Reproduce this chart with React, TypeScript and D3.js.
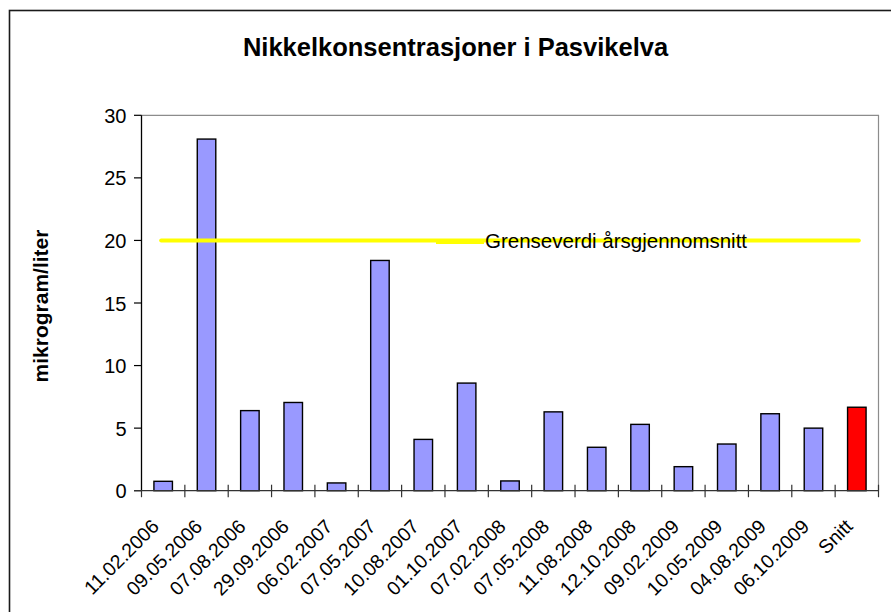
import { useEffect, useRef } from 'react';
import * as d3 from 'd3';

const dates = [
  '11.02.2006', '09.05.2006', '07.08.2006', '29.09.2006', '06.02.2007', '07.05.2007',
  '10.08.2007', '01.10.2007', '07.02.2008', '07.05.2008', '11.08.2008', '12.10.2008',
  '09.02.2009', '10.05.2009', '04.08.2009', '06.10.2009', 'Snitt',
];
const nickel = [0.75, 28.1, 6.4, 7.05, 0.62, 18.4, 4.1, 8.6, 0.78, 6.3, 3.47, 5.3, 1.92, 3.73, 6.15, 5.0, 6.67];
const limitValue = 20;
const limitLabel = 'Grenseverdi årsgjennomsnitt';
const yTicks = [0, 5, 10, 15, 20, 25, 30];

const W = 891;
const H = 612;
const FONT = '"Liberation Sans", Arial, sans-serif';

function App() {
  const ref = useRef<HTMLDivElement>(null);

  useEffect(() => {
    const svgElement = createChart();
    ref.current && ref.current.appendChild(svgElement);
    return () => {
      if (ref.current && ref.current.contains(svgElement)) ref.current.removeChild(svgElement);
    };
  }, []);

  return <div ref={ref} style={{ position: 'absolute', left: 0, top: 0 }}></div>;
}

function createChart() {
  const left = 141.5, right = 878.5, top = 115.3, bottom = 490.7;

  const x = d3.scaleBand<string>()
    .domain(dates)
    .range([left, right])
    .paddingInner(0.573)
    .paddingOuter(0.2865);
  const step = (right - left) / dates.length;
  const y = d3.scaleLinear().domain([0, 30]).range([bottom, top]);

  const svg = d3.create('svg')
    .attr('width', W)
    .attr('height', H)
    .attr('viewBox', `0 0 ${W} ${H}`)
    .style('display', 'block')
    .style('font-family', FONT);

  svg.append('rect').attr('width', W).attr('height', H).attr('fill', '#fff');

  // outer chart frame (runs off the picture to the right and bottom)
  svg.append('rect')
    .attr('x', 9.5).attr('y', 10.5)
    .attr('width', 920).attr('height', 640)
    .attr('fill', 'none').attr('stroke', '#1a1a1a').attr('stroke-width', 1.6);

  svg.append('text')
    .attr('x', 455.5).attr('y', 56)
    .attr('text-anchor', 'middle')
    .attr('font-size', 25.5).attr('font-weight', 'bold')
    .text('Nikkelkonsentrasjoner i Pasvikelva');

  // plot border top and right
  svg.append('path')
    .attr('d', `M${left},${top}H${right}V${bottom}`)
    .attr('fill', 'none').attr('stroke', '#8c8c8c').attr('stroke-width', 1.2);

  // bars
  svg.append('g').selectAll('rect')
    .data(nickel)
    .join('rect')
      .attr('x', (d, i) => x(dates[i])!)
      .attr('y', d => y(d))
      .attr('width', x.bandwidth())
      .attr('height', d => y(0) - y(d))
      .attr('fill', (d, i) => dates[i] === 'Snitt' ? '#ff0000' : '#9999ff')
      .attr('stroke', '#000').attr('stroke-width', 1.4);

  // limit line
  const firstC = x(dates[0])! + x.bandwidth() / 2;
  const lastC = x(dates[dates.length - 1])! + x.bandwidth() / 2;
  svg.append('line')
    .attr('x1', firstC - 2).attr('x2', lastC + 2)
    .attr('y1', y(limitValue)).attr('y2', y(limitValue))
    .attr('stroke', '#ffff00').attr('stroke-width', 4).attr('stroke-linecap', 'round');

  // legend entry sitting on the line
  svg.append('line')
    .attr('x1', 436).attr('x2', 484)
    .attr('y1', y(limitValue) + 1.5).attr('y2', y(limitValue) + 1.5)
    .attr('stroke', '#ffff00').attr('stroke-width', 4);
  svg.append('text')
    .attr('x', 485).attr('y', y(limitValue) + 7.5)
    .attr('font-size', 20.5)
    .text(limitLabel);

  // y axis
  const yAxis = svg.append('g');
  yAxis.append('line')
    .attr('x1', left).attr('x2', left).attr('y1', top).attr('y2', bottom)
    .attr('stroke', '#000').attr('stroke-width', 1.3);
  yAxis.selectAll('line.tick')
    .data(yTicks)
    .join('line')
      .attr('class', 'tick')
      .attr('x1', left - 7.5).attr('x2', left)
      .attr('y1', d => y(d)).attr('y2', d => y(d))
      .attr('stroke', '#000').attr('stroke-width', 1.2);
  yAxis.selectAll('text')
    .data(yTicks)
    .join('text')
      .attr('x', left - 15)
      .attr('y', d => y(d) + 7.5)
      .attr('text-anchor', 'end')
      .attr('font-size', 20)
      .text(d => d);

  svg.append('text')
    .attr('transform', 'translate(48,306) rotate(-90)')
    .attr('text-anchor', 'middle')
    .attr('font-size', 21).attr('font-weight', 'bold')
    .text('mikrogram/liter');

  // x axis
  const xAxis = svg.append('g');
  xAxis.append('line')
    .attr('x1', left - 7.5).attr('x2', right).attr('y1', bottom).attr('y2', bottom)
    .attr('stroke', '#333').attr('stroke-width', 1.3);
  xAxis.selectAll('line.tick')
    .data(d3.range(dates.length + 1))
    .join('line')
      .attr('class', 'tick')
      .attr('x1', i => left + i * step).attr('x2', i => left + i * step)
      .attr('y1', i => (i === 0 ? bottom : bottom - 6)).attr('y2', bottom + 6.5)
      .attr('stroke', '#333').attr('stroke-width', 1.2);
  xAxis.selectAll('text')
    .data(dates)
    .join('text')
      .attr('transform', d => `translate(${x(d)! + x.bandwidth() / 2 - 3},${bottom + 37}) rotate(-45)`)
      .attr('text-anchor', 'end')
      .attr('font-size', 19.5)
      .text(d => d);

  return svg.node()!;
}

export default App;
